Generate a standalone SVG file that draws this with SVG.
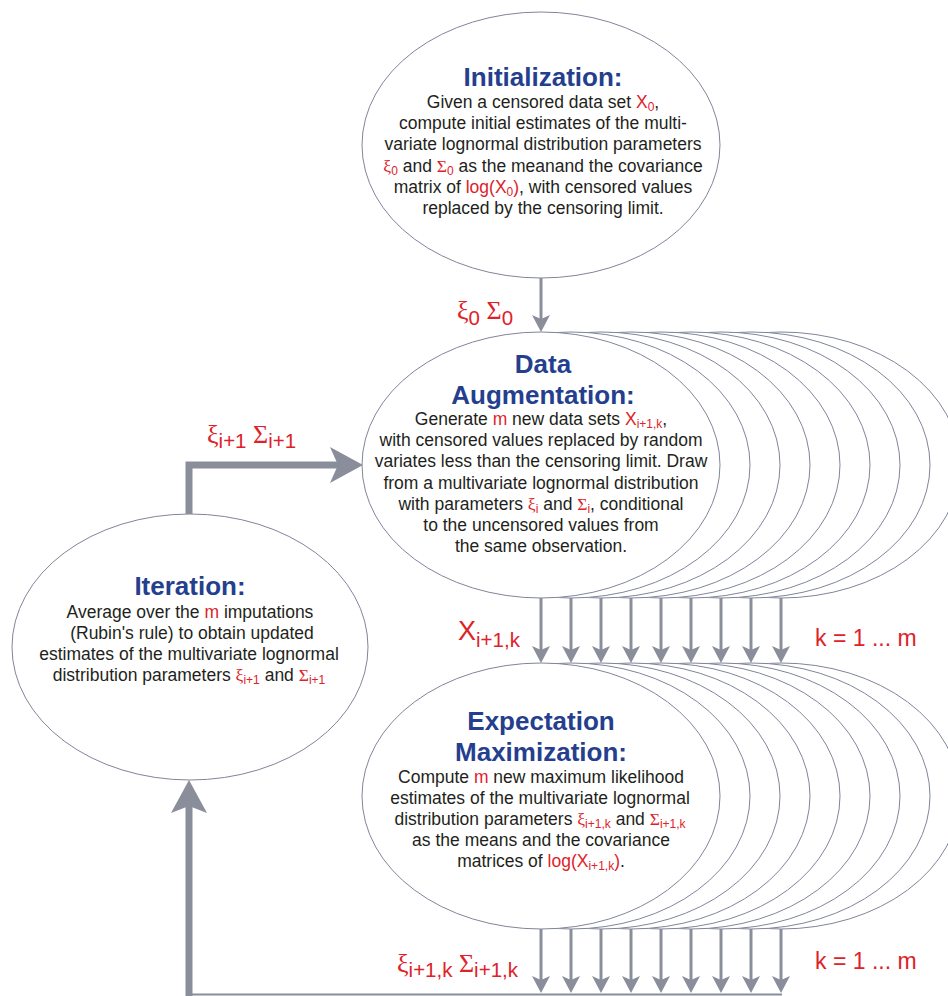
<svg xmlns="http://www.w3.org/2000/svg" xmlns:xlink="http://www.w3.org/1999/xlink" width="948" height="996" viewBox="0 0 948 996">
<style>
.el{fill:#ffffff;stroke:#80859a;stroke-width:1}
.t{font-family:"Liberation Sans",Arial,sans-serif;font-weight:bold;font-size:26px;fill:#253f8e;text-anchor:middle}
.b{font-family:"Liberation Sans",Arial,sans-serif;font-size:17.5px;fill:#231f20;text-anchor:middle}
.r{fill:#de2229}
.g{font-family:"Liberation Serif","DejaVu Serif",serif}
.s{font-size:12px}
.lab{font-family:"Liberation Sans",Arial,sans-serif;fill:#de2229}
.big{font-size:26px}
.sb{font-size:20.5px}
.ln{stroke:#8a8e9b;stroke-width:3;fill:none}
.thk{stroke:#8a8e9b;stroke-width:7;fill:none}
.hd{fill:#8a8e9b}
</style>
<defs>
<path id="ahd" d="M0,0 L-9,-17 L0,-13 L9,-17 Z"/>
<path id="ahr" d="M0,0 L-33,-18 L-25,0 L-33,18 Z"/>
<path id="ahu" d="M0,0 L-18,33 L0,26 L18,33 Z"/>
</defs>
<rect width="948" height="996" fill="#ffffff"/>

<g id="node-init">
<ellipse class="el" cx="541" cy="145" rx="179" ry="133"/>
<text class="t" x="543" y="86">Initialization:</text>
<text class="b" x="543" y="108">Given a censored data set <tspan class="r">X</tspan><tspan class="r s" dy="3">0</tspan><tspan dy="-3">,</tspan></text>
<text class="b" x="543" y="129">compute initial estimates of the multi-</text>
<text class="b" x="543" y="150">variate lognormal distribution parameters</text>
<text class="b" x="543" y="172"><tspan class="r g">ξ</tspan><tspan class="r s" dy="3">0</tspan><tspan dy="-3"> and </tspan><tspan class="r g">Σ</tspan><tspan class="r s" dy="3">0</tspan><tspan dy="-3"> as the meanand the covariance</tspan></text>
<text class="b" x="543" y="193">matrix of <tspan class="r">log(X</tspan><tspan class="r s" dy="3">0</tspan><tspan class="r" dy="-3">)</tspan>, with censored values</text>
<text class="b" x="543" y="214">replaced by the censoring limit.</text>
</g>

<g id="node-da">
<ellipse class="el" cx="781" cy="465" rx="179" ry="133"/>
<ellipse class="el" cx="751" cy="465" rx="179" ry="133"/>
<ellipse class="el" cx="721" cy="465" rx="179" ry="133"/>
<ellipse class="el" cx="691" cy="465" rx="179" ry="133"/>
<ellipse class="el" cx="661" cy="465" rx="179" ry="133"/>
<ellipse class="el" cx="631" cy="465" rx="179" ry="133"/>
<ellipse class="el" cx="601" cy="465" rx="179" ry="133"/>
<ellipse class="el" cx="571" cy="465" rx="179" ry="133"/>
<ellipse class="el" cx="541" cy="465" rx="179" ry="133"/>
<text class="t" x="543" y="373">Data</text>
<text class="t" x="543" y="404">Augmentation:</text>
<text class="b" x="541" y="425">Generate <tspan class="r">m</tspan> new data sets <tspan class="r">X</tspan><tspan class="r s" dy="3">i+1,k</tspan><tspan dy="-3">,</tspan></text>
<text class="b" x="541" y="446">with censored values replaced by random</text>
<text class="b" x="541" y="467">variates less than the censoring limit. Draw</text>
<text class="b" x="541" y="489">from a multivariate lognormal distribution</text>
<text class="b" x="541" y="510">with parameters <tspan class="r g">ξ</tspan><tspan class="r s" dy="3">i</tspan><tspan dy="-3"> and </tspan><tspan class="r g">Σ</tspan><tspan class="r s" dy="3">i</tspan><tspan dy="-3">, conditional</tspan></text>
<text class="b" x="541" y="531">to the uncensored values from</text>
<text class="b" x="541" y="552">the same observation.</text>
</g>

<g id="node-iter">
<ellipse class="el" cx="190" cy="647" rx="178" ry="133"/>
<text class="t" x="190" y="595">Iteration:</text>
<text class="b" x="190" y="618">Average over the <tspan class="r">m</tspan> imputations</text>
<text class="b" x="192" y="639">(Rubin's rule) to obtain updated</text>
<text class="b" x="189" y="660">estimates of the multivariate lognormal</text>
<text class="b" x="189" y="681">distribution parameters <tspan class="r g">ξ</tspan><tspan class="r s" dy="3">i+1</tspan><tspan dy="-3"> and </tspan><tspan class="r g">Σ</tspan><tspan class="r s" dy="3">i+1</tspan></text>
</g>

<g id="node-em">
<ellipse class="el" cx="781" cy="796" rx="179" ry="133"/>
<ellipse class="el" cx="751" cy="796" rx="179" ry="133"/>
<ellipse class="el" cx="721" cy="796" rx="179" ry="133"/>
<ellipse class="el" cx="691" cy="796" rx="179" ry="133"/>
<ellipse class="el" cx="661" cy="796" rx="179" ry="133"/>
<ellipse class="el" cx="631" cy="796" rx="179" ry="133"/>
<ellipse class="el" cx="601" cy="796" rx="179" ry="133"/>
<ellipse class="el" cx="571" cy="796" rx="179" ry="133"/>
<ellipse class="el" cx="541" cy="796" rx="179" ry="133"/>
<text class="t" x="541" y="730">Expectation</text>
<text class="t" x="541" y="761">Maximization:</text>
<text class="b" x="541" y="783">Compute <tspan class="r">m</tspan> new maximum likelihood</text>
<text class="b" x="540" y="804">estimates of the multivariate lognormal</text>
<text class="b" x="540" y="825">distribution parameters <tspan class="r g">ξ</tspan><tspan class="r s" dy="3">i+1,k</tspan><tspan dy="-3"> and </tspan><tspan class="r g">Σ</tspan><tspan class="r s" dy="3">i+1,k</tspan></text>
<text class="b" x="541" y="846">as the means and the covariance</text>
<text class="b" x="541" y="867">matrices of <tspan class="r">log(X</tspan><tspan class="r s" dy="3">i+1,k</tspan><tspan class="r" dy="-3">)</tspan>.</text>
</g>

<g id="connectors">
<line class="ln" x1="541" y1="278" x2="541" y2="320"/>
<use xlink:href="#ahd" class="hd" x="541" y="332"/>
<g id="da-to-em">
<line class="ln" x1="541" y1="598" x2="541" y2="651"/><use xlink:href="#ahd" class="hd" x="541" y="663"/>
<line class="ln" x1="571" y1="598" x2="571" y2="651"/><use xlink:href="#ahd" class="hd" x="571" y="663"/>
<line class="ln" x1="601" y1="598" x2="601" y2="651"/><use xlink:href="#ahd" class="hd" x="601" y="663"/>
<line class="ln" x1="631" y1="598" x2="631" y2="651"/><use xlink:href="#ahd" class="hd" x="631" y="663"/>
<line class="ln" x1="661" y1="598" x2="661" y2="651"/><use xlink:href="#ahd" class="hd" x="661" y="663"/>
<line class="ln" x1="691" y1="598" x2="691" y2="651"/><use xlink:href="#ahd" class="hd" x="691" y="663"/>
<line class="ln" x1="721" y1="598" x2="721" y2="651"/><use xlink:href="#ahd" class="hd" x="721" y="663"/>
<line class="ln" x1="751" y1="598" x2="751" y2="651"/><use xlink:href="#ahd" class="hd" x="751" y="663"/>
<line class="ln" x1="781" y1="598" x2="781" y2="651"/><use xlink:href="#ahd" class="hd" x="781" y="663"/>
</g>
<g id="em-to-iter">
<line class="ln" x1="541" y1="929" x2="541" y2="981"/><use xlink:href="#ahd" class="hd" x="541" y="993"/>
<line class="ln" x1="571" y1="929" x2="571" y2="981"/><use xlink:href="#ahd" class="hd" x="571" y="993"/>
<line class="ln" x1="601" y1="929" x2="601" y2="981"/><use xlink:href="#ahd" class="hd" x="601" y="993"/>
<line class="ln" x1="631" y1="929" x2="631" y2="981"/><use xlink:href="#ahd" class="hd" x="631" y="993"/>
<line class="ln" x1="661" y1="929" x2="661" y2="981"/><use xlink:href="#ahd" class="hd" x="661" y="993"/>
<line class="ln" x1="691" y1="929" x2="691" y2="981"/><use xlink:href="#ahd" class="hd" x="691" y="993"/>
<line class="ln" x1="721" y1="929" x2="721" y2="981"/><use xlink:href="#ahd" class="hd" x="721" y="993"/>
<line class="ln" x1="751" y1="929" x2="751" y2="981"/><use xlink:href="#ahd" class="hd" x="751" y="993"/>
<line class="ln" x1="781" y1="929" x2="781" y2="981"/><use xlink:href="#ahd" class="hd" x="781" y="993"/>
<line x1="189" y1="994.5" x2="782" y2="994.5" stroke="#8a8e9b" stroke-width="2"/>
<line class="thk" x1="189" y1="996" x2="189" y2="805"/>
<use xlink:href="#ahu" class="hd" x="189" y="780"/>
</g>
<polyline class="thk" points="189,514 189,465 340,465" stroke-linejoin="miter"/>
<use xlink:href="#ahr" class="hd" x="363" y="465"/>
</g>

<g id="labels">
<text class="lab" x="457" y="319"><tspan class="g big">ξ</tspan><tspan class="sb" dy="6">0</tspan><tspan class="g big" dy="-6"> Σ</tspan><tspan class="sb" dy="6">0</tspan></text>
<text class="lab" x="207" y="443"><tspan class="g big">ξ</tspan><tspan class="sb" dy="5">i+1</tspan><tspan class="g big" dy="-5"> Σ</tspan><tspan class="sb" dy="5">i+1</tspan></text>
<text class="lab" x="458" y="640"><tspan style="font-size:27px">X</tspan><tspan class="sb" dy="7">i+1,k</tspan></text>
<text class="lab" x="815" y="646" style="font-size:23px">k = 1 ... m</text>
<text class="lab" x="397" y="972"><tspan class="g big">ξ</tspan><tspan class="sb" dy="5">i+1,k</tspan><tspan class="g big" dy="-5"> Σ</tspan><tspan class="sb" dy="5">i+1,k</tspan></text>
<text class="lab" x="815" y="969" style="font-size:23px">k = 1 ... m</text>
</g>
</svg>
